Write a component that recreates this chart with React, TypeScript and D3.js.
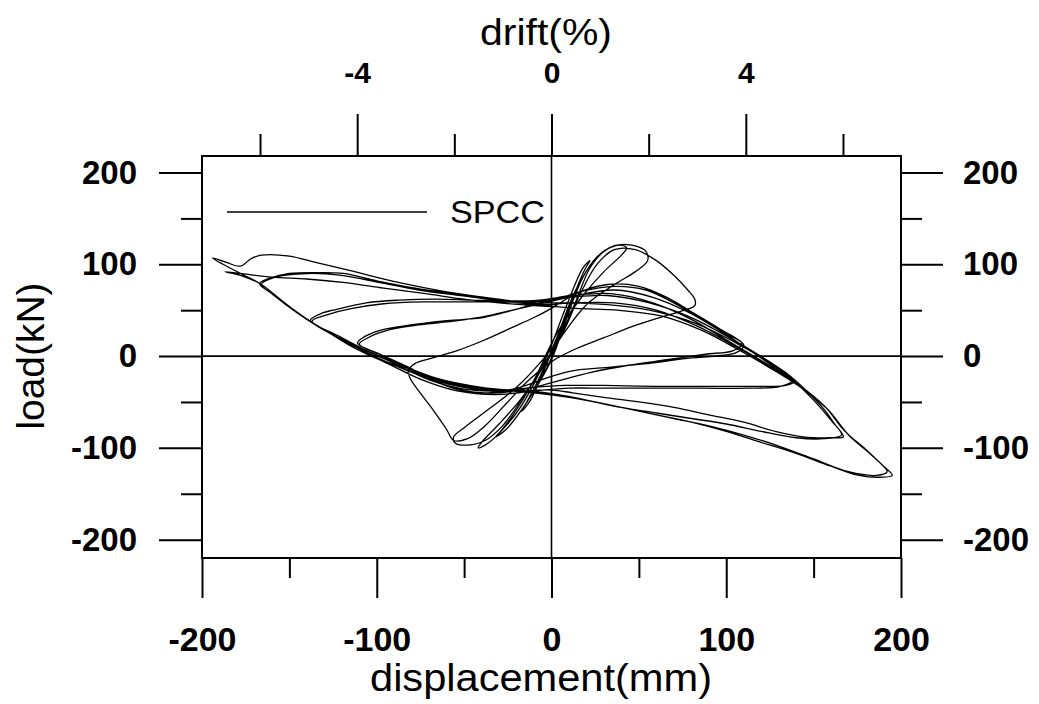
import React, { useEffect, useRef } from "react";
import * as d3 from "d3";

// displacement (mm), load (kN)
const smallCycles = [
  [0, 0], [4, 18], [8, 38], [6, 30], [0, 4], [-5, -16], [-9, -32], [-6, -24], [0, -2],
  [6, 30], [12, 60], [15, 76], [11, 60], [3, 20], [-6, -20], [-13, -46], [-17, -60], [-12, -48], [-4, -14],
  [6, 32], [14, 72], [19, 94], [22, 104], [18, 96], [8, 52], [0, 12], [-10, -30], [-20, -62], [-28, -80],
  [-32, -88], [-26, -80], [-14, -50], [0, -4],
];
const cycle40 = [
  [8, 38], [18, 86], [26, 108], [33, 118], [39, 121], [43, 118], [40, 110], [30, 92], [18, 66], [6, 34],
  [0, 14], [-10, -26], [-22, -64], [-32, -88], [-38, -97], [-42, -100], [-40, -94], [-30, -74], [-18, -48],
  [-6, -16], [4, 18],
];
const cycle55 = [
  [14, 60], [22, 96], [30, 114], [38, 121], [48, 120], [54, 114], [55, 104], [48, 92], [36, 78], [20, 56],
  [6, 22], [-4, -8], [-16, -44], [-28, -76], [-38, -92], [-48, -97], [-55, -95], [-56, -88], [-50, -78],
  [-36, -58], [-20, -34], [-6, -6],
];
const cycle82 = [
  [6, 24], [16, 66], [26, 100], [36, 116], [48, 116], [60, 104], [70, 88], [78, 72], [82, 62], [82, 55],
  [76, 50], [62, 42], [46, 32], [30, 20], [14, 8], [0, -6], [-14, -28], [-26, -52], [-38, -76], [-48, -90],
  [-56, -92], [-60, -80], [-68, -58], [-76, -38], [-81, -24], [-82, -16], [-78, -8], [-68, -2], [-54, 6],
  [-39, 17], [-24, 30], [-10, 42], [0, 52],
];
const cycle110a = [
  [14, 68], [32, 78], [50, 76], [66, 64], [82, 46], [96, 30], [110, 12], [106, 4], [94, 0], [80, -2],
  [56, -8], [34, -12], [12, -16], [0, -22], [-18, -34], [-36, -40], [-54, -36], [-68, -26], [-82, -12],
  [-96, 0], [-111, 14], [-108, 20], [-98, 28], [-87, 32], [-68, 37], [-50, 40], [-39, 42], [-22, 50],
  [-7, 58], [0, 60],
];
const cycle110b = [
  [16, 70], [36, 76], [54, 72], [70, 58], [86, 40], [100, 24], [109, 14], [104, 6], [88, 2], [66, -4],
  [44, -10], [22, -18], [6, -26], [-10, -34], [-30, -40], [-50, -38], [-66, -28], [-82, -12], [-98, 2],
  [-110, 13], [-105, 20], [-92, 29], [-76, 34], [-56, 38], [-36, 44], [-18, 52], [-4, 58],
];
const cycle139a = [
  [14, 66], [36, 72], [58, 64], [78, 48], [96, 28], [112, 8], [126, -10], [139, -27], [134, -32],
  [116, -33], [90, -33], [60, -33], [30, -32], [8, -32], [-10, -34], [-30, -38], [-50, -36], [-70, -26],
  [-90, -8], [-106, 6], [-122, 22], [-138, 39], [-131, 47], [-125, 50], [-106, 58], [-87, 61], [-66, 62],
  [-46, 61], [-24, 60], [-7, 61],
];
const cycle139b = [
  [12, 66], [34, 68], [58, 58], [80, 40], [98, 20], [114, 2], [128, -14], [138, -26], [131, -33],
  [112, -35], [86, -35], [58, -35], [30, -35], [10, -35], [-10, -38], [-32, -42], [-54, -38], [-74, -26],
  [-94, -8], [-112, 8], [-126, 24], [-137, 38], [-130, 44], [-114, 52], [-96, 57], [-74, 59], [-52, 59],
  [-30, 59], [-10, 59],
];
const cycle167a = [
  [10, 64], [32, 66], [56, 58], [80, 42], [100, 22], [118, 2], [134, -18], [146, -38], [156, -58],
  [162, -74], [167, -88], [160, -89], [144, -88], [128, -82], [110, -72], [90, -64], [70, -56], [50, -50],
  [30, -45], [12, -40], [0, -37], [-20, -38], [-44, -36], [-68, -26], [-90, -10], [-110, 8], [-126, 24],
  [-140, 40], [-152, 56], [-160, 68], [-167, 79], [-161, 85], [-150, 90], [-134, 91], [-119, 90],
  [-100, 82], [-78, 74], [-56, 68], [-32, 62], [-10, 58],
];
const cycle167b = [
  [10, 58], [32, 56], [56, 50], [82, 36], [104, 16], [122, -4], [138, -26], [150, -48], [160, -70],
  [166, -86], [156, -90], [140, -89], [120, -82], [100, -74], [80, -68], [60, -62], [40, -56], [20, -48],
  [4, -42], [-14, -38], [-38, -36], [-62, -28], [-84, -14], [-104, 2], [-122, 20], [-138, 38], [-150, 54],
  [-160, 68], [-166, 78], [-158, 86], [-140, 90], [-120, 88], [-98, 80], [-76, 72], [-52, 66], [-28, 60],
  [-6, 56],
];
const cycle195a = [
  [12, 58], [36, 58], [60, 50], [84, 32], [104, 12], [124, -10], [142, -32], [156, -54], [168, -82],
  [180, -102], [190, -120], [195, -130], [188, -132], [176, -130], [160, -120], [140, -106], [120, -94],
  [100, -82], [80, -72], [60, -64], [40, -56], [20, -48], [4, -42], [-16, -38], [-40, -34], [-66, -24],
  [-88, -8], [-108, 8], [-126, 24], [-140, 40], [-154, 60], [-166, 78], [-178, 90], [-188, 100],
  [-194, 107], [-186, 102], [-178, 98], [-172, 106], [-166, 110], [-150, 109], [-135, 102], [-115, 93],
  [-87, 80], [-60, 70], [-30, 62], [-3, 55],
];
const cycle195b = [
  [14, 52], [38, 50], [62, 44], [86, 28], [106, 8], [126, -14], [144, -36], [158, -58], [170, -86],
  [182, -106], [192, -126], [186, -130], [170, -126], [150, -112], [130, -98], [110, -86], [90, -76],
  [70, -68], [50, -60], [30, -52], [10, -45], [-10, -40], [-34, -36], [-60, -28], [-84, -12], [-104, 4],
  [-122, 20], [-138, 38], [-152, 56], [-166, 78], [-178, 88], [-187, 92], [-178, 90], [-160, 86],
  [-140, 84], [-118, 80], [-96, 74], [-72, 68], [-50, 62], [-30, 58], [-10, 55], [0, 54],
];

const loadTicks = [-200, -100, 0, 100, 200];
const loadMinorTicks = [-150, -50, 50, 150];
const dispTicks = [-200, -100, 0, 100, 200];
const dispMinorTicks = [-150, -50, 50, 150];
const driftTicks = [-4, 0, 4];
const driftMinorTicks = [-6, -2, 2, 6];

const W = 1039;
const H = 704;
const FONT = "'Liberation Sans', Arial, sans-serif";

export default function App() {
  const svgRef = useRef(null);

  useEffect(() => {
    const svg = d3.select(svgRef.current);
    svg.selectAll("*").remove();

    const left = 202, right = 901, top = 156, bottom = 558;

    const x = d3.scaleLinear().domain([-200, 200]).range([left, right]);
    const y = d3.scaleLinear().domain([-220, 218]).range([bottom, top]);
    // drift (%) = displacement / 27.8 mm
    const drift = d3.scaleLinear().domain([-200 / 27.8, 200 / 27.8]).range([left, right]);

    const styleAxis = (g, size, weight) => {
      g.select(".domain").remove();
      g.selectAll(".tick line").attr("stroke", "#000").attr("stroke-width", 2);
      g.selectAll("text")
        .attr("fill", "#000")
        .style("font-family", FONT)
        .style("font-size", size + "px")
        .style("font-weight", weight);
    };

    // left axis
    svg.append("g").attr("transform", `translate(${left},0)`)
      .call(d3.axisLeft(y).tickValues(loadTicks).tickSize(43).tickPadding(22).tickFormat((d) => String(d)))
      .call((g) => styleAxis(g, 33, "bold"));
    svg.append("g").attr("transform", `translate(${left},0)`)
      .call(d3.axisLeft(y).tickValues(loadMinorTicks).tickSize(21).tickFormat(() => ""))
      .call((g) => styleAxis(g, 33, "bold"));

    // right axis
    svg.append("g").attr("transform", `translate(${right},0)`)
      .call(d3.axisRight(y).tickValues(loadTicks).tickSize(42).tickPadding(20).tickFormat((d) => String(d)))
      .call((g) => styleAxis(g, 33, "bold"));
    svg.append("g").attr("transform", `translate(${right},0)`)
      .call(d3.axisRight(y).tickValues(loadMinorTicks).tickSize(21).tickFormat(() => ""))
      .call((g) => styleAxis(g, 33, "bold"));

    // bottom axis
    svg.append("g").attr("transform", `translate(0,${bottom})`)
      .call(d3.axisBottom(x).tickValues(dispTicks).tickSize(40).tickPadding(29).tickFormat((d) => String(d)))
      .call((g) => styleAxis(g, 34, "bold"));
    svg.append("g").attr("transform", `translate(0,${bottom})`)
      .call(d3.axisBottom(x).tickValues(dispMinorTicks).tickSize(20).tickFormat(() => ""))
      .call((g) => styleAxis(g, 34, "bold"));

    // top axis (drift)
    svg.append("g").attr("transform", `translate(0,${top})`)
      .call(d3.axisTop(drift).tickValues(driftTicks).tickSize(42).tickPadding(31).tickFormat((d) => String(d)))
      .call((g) => styleAxis(g, 30, "bold"));
    svg.append("g").attr("transform", `translate(0,${top})`)
      .call(d3.axisTop(drift).tickValues(driftMinorTicks).tickSize(22).tickFormat(() => ""))
      .call((g) => styleAxis(g, 30, "bold"));

    // frame
    svg.append("rect")
      .attr("x", left).attr("y", top)
      .attr("width", right - left).attr("height", bottom - top)
      .attr("fill", "none").attr("stroke", "#000").attr("stroke-width", 2);

    // zero lines
    svg.append("line")
      .attr("x1", x(0)).attr("x2", x(0)).attr("y1", top).attr("y2", bottom)
      .attr("stroke", "#000").attr("stroke-width", 1.6);
    svg.append("line")
      .attr("x1", left).attr("x2", right).attr("y1", y(0)).attr("y2", y(0))
      .attr("stroke", "#000").attr("stroke-width", 1.6);

    // hysteresis curve
    const data = [
      ...smallCycles, ...cycle40, ...cycle55, ...cycle82, ...cycle110a, ...cycle110b,
      ...cycle139a, ...cycle139b, ...cycle167a, ...cycle167b, ...cycle195a, ...cycle195b,
    ];
    const line = d3.line()
      .curve(d3.curveCatmullRom.alpha(0.5))
      .x((d) => x(d[0]))
      .y((d) => y(d[1]));
    svg.append("path")
      .datum(data)
      .attr("d", line)
      .attr("fill", "none")
      .attr("stroke", "#000")
      .attr("stroke-width", 1.3)
      .attr("stroke-linejoin", "round");

    // legend
    svg.append("line")
      .attr("x1", 227).attr("x2", 427).attr("y1", 212).attr("y2", 212)
      .attr("stroke", "#000").attr("stroke-width", 1.6);
    svg.append("text")
      .attr("x", 450).attr("y", 223)
      .attr("textLength", 95).attr("lengthAdjust", "spacingAndGlyphs")
      .style("font-family", FONT).style("font-size", "32px")
      .text("SPCC");

    // axis titles
    svg.append("text")
      .attr("x", 546).attr("y", 45)
      .attr("text-anchor", "middle")
      .attr("textLength", 132).attr("lengthAdjust", "spacingAndGlyphs")
      .style("font-family", FONT).style("font-size", "36px")
      .text("drift(%)");
    svg.append("text")
      .attr("x", 541).attr("y", 691)
      .attr("text-anchor", "middle")
      .attr("textLength", 342).attr("lengthAdjust", "spacingAndGlyphs")
      .style("font-family", FONT).style("font-size", "38px")
      .text("displacement(mm)");
    svg.append("text")
      .attr("transform", `translate(44,${y(0)}) rotate(-90)`)
      .attr("text-anchor", "middle")
      .attr("textLength", 147).attr("lengthAdjust", "spacingAndGlyphs")
      .style("font-family", FONT).style("font-size", "38px")
      .text("load(kN)");
  }, []);

  return (
    <svg
      ref={svgRef}
      width={W}
      height={H}
      style={{ position: "absolute", left: 0, top: 0, background: "#fff" }}
    />
  );
}
